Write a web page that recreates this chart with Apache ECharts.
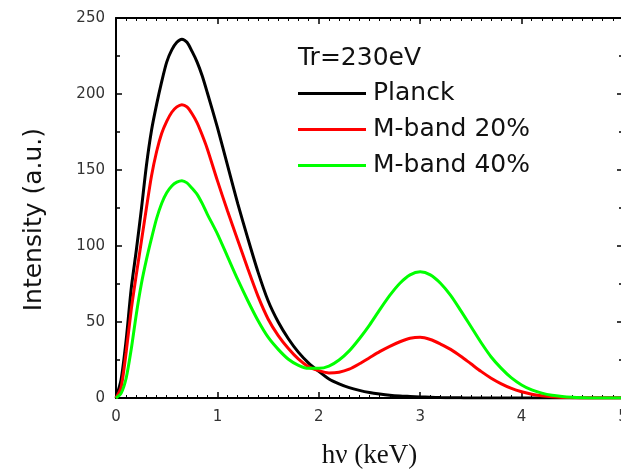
<!DOCTYPE html>
<html>
<head>
<meta charset="utf-8">
<script src="https://cdn.jsdelivr.net/npm/echarts@6/dist/echarts.min.js"></script>
<style>
html,body{margin:0;padding:0;background:#fff;}
#chart{width:621px;height:470px;}
</style>
</head>
<body>
<div id="chart"></div>
<script>
// photon energy hv (keV)
var energies = [0,0.05,0.1,0.15,0.2,0.25,0.3,0.35,0.4,0.45,0.5,0.55,0.6,0.65,0.7,0.75,0.8,0.85,0.9,
  1.0,1.1,1.2,1.3,1.4,1.5,1.6,1.7,1.8,1.9,2.0,2.1,2.2,2.3,2.4,2.5,2.6,2.7,2.8,2.9,3.0,
  3.1,3.2,3.3,3.4,3.5,3.6,3.7,3.8,3.9,4.0,4.1,4.2,4.3,4.4,4.5,4.6,4.7,4.8,4.9,5.0];
var planck = [0,12,38,72,97,124,153,176,193,208,221,229,234,236,234,228,221,212,201,
  178,153,128,105,83,64,50,39,30,23,17.5,12.5,9.3,6.8,5,3.6,2.6,1.8,1.3,1,0.7,
  0.5,0.3,0.2,0.1,0,0,0,0,0,0,0,0,0,0,0,0,0,0,0,0];
var mband20 = [0,7,30,58,81,103,125,146,162,174,182,188,191.5,193,191.5,187,181,173,164,
  143,123,104,85,67,52,41,32.5,25.5,20.5,18,16.5,17,19,22.5,26.5,30.5,34,37,39.3,40,
  38.5,35.5,32,27.5,22.5,17.5,13,9.3,6.3,4.1,2.5,1.5,0.8,0.4,0.2,0,0,0,0,0];
var mband40 = [0,3,13,32,55,75,91,105,118,128,135,139.5,142,143,141.5,138,134,128,121,
  108,93,78,64,51,40,32,25.5,21.5,19.5,19.5,21,25,31,39,48,58,67.5,75.5,81,83,
  81,75.5,67.5,57.5,47,36.5,27,19.5,13.2,8.6,5.3,3.2,1.8,1,0.5,0.2,0,0,0,0];
var seriesNames = ['Planck','M-band 20%','M-band 40%'];
var seriesColors = ['#000000','#ff0000','#00ff00'];
var xTicks = [0,1,2,3,4,5];
var yTicks = [0,50,100,150,200,250];

function pairs(ys){ return energies.map(function(x,i){ return [x, ys[i]]; }); }

var chart = echarts.init(document.getElementById('chart'), null, {renderer:'canvas'});
var font = 'DejaVu Sans';
function axisBase(extra){
  return Object.assign({
    axisLine:{show:true, onZero:false, lineStyle:{color:'#000', width:2}},
    axisTick:{show:true, inside:true, length:6, lineStyle:{color:'#000', width:1.5}},
    splitLine:{show:false}
  }, extra);
}
var option = {
  animation:false,
  backgroundColor:'#fff',
  title:{
    text:'Tr=230eV', left:298, top:46, padding:0,
    textStyle:{fontFamily:font, fontSize:25, fontWeight:'normal', color:'#111'}
  },
  legend:{
    data:seriesNames, orient:'vertical', left:298, top:81, padding:0,
    itemWidth:68, itemHeight:3, itemGap:11, icon:'rect',
    textStyle:{fontFamily:font, fontSize:25, color:'#111', padding:[0,0,0,2]}
  },
  grid:{left:116, top:18, width:507, height:380, containLabel:false, outerBoundsMode:'none'},
  xAxis:[
    axisBase({
      type:'value', min:xTicks[0], max:xTicks[xTicks.length-1], interval:1, position:'bottom',
      minorTick:{show:true, splitNumber:10, length:3, lineStyle:{color:'#000', width:1}},
      axisLabel:{fontFamily:font, fontSize:15, color:'#333', margin:12},
      name:'hν (keV)', nameLocation:'middle', nameGap:44,
      nameTextStyle:{fontFamily:'Liberation Serif', fontSize:27, color:'#111'}
    }),
    axisBase({
      type:'value', min:0, max:5, interval:1, position:'top',
      minorTick:{show:true, splitNumber:10, length:3, lineStyle:{color:'#000', width:1}},
      axisLabel:{show:false}
    })
  ],
  yAxis:[
    axisBase({
      type:'value', min:yTicks[0], max:yTicks[yTicks.length-1], interval:50, position:'left',
      minorTick:{show:true, splitNumber:2, length:4, lineStyle:{color:'#000', width:1.5}},
      axisLabel:{fontFamily:font, fontSize:15, color:'#333', margin:11}
    }),
    axisBase({
      type:'value', min:0, max:250, interval:50, position:'right',
      minorTick:{show:true, splitNumber:2, length:4, lineStyle:{color:'#000', width:1.5}},
      axisLabel:{show:false}
    })
  ],
  graphic:[{
    type:'text', left:22, top:128, rotation:Math.PI/2,
    style:{text:'Intensity (a.u.)', fontFamily:font, fontSize:25, fill:'#111'}
  }],
  series:[planck, mband20, mband40].map(function(ys, i){
    return {
      name:seriesNames[i], type:'line', data:pairs(ys), xAxisIndex:0, yAxisIndex:0,
      showSymbol:false, smooth:0.25, color:seriesColors[i],
      lineStyle:{color:seriesColors[i], width:3}, clip:true
    };
  })
};
chart.setOption(option);
</script>
</body>
</html>
